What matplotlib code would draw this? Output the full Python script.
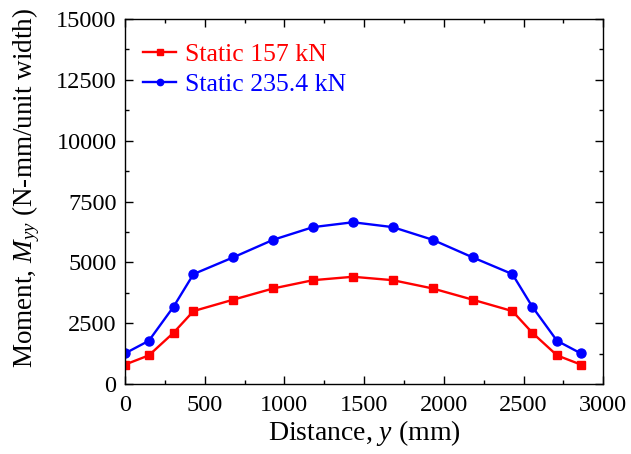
import matplotlib
matplotlib.use("Agg")
import matplotlib.pyplot as plt
from matplotlib.ticker import MultipleLocator

plt.rcParams["font.family"] = ["Liberation Serif", "DejaVu Serif"]
plt.rcParams["mathtext.fontset"] = "custom"
plt.rcParams["mathtext.rm"] = "Liberation Serif"
plt.rcParams["mathtext.it"] = "Liberation Serif:italic"

# Distance across the slab width (mm)
distance = [0, 150, 305, 430, 680, 930, 1180, 1430, 1680, 1930, 2180, 2430, 2555, 2710, 2860]
# Transverse moment M_yy (N-mm/unit width)
static_157 = [800, 1180, 2110, 3000, 3470, 3930, 4270, 4410, 4270, 3930, 3470, 3000, 2110, 1180, 800]
static_235 = [1260, 1780, 3180, 4520, 5210, 5930, 6450, 6650, 6450, 5930, 5210, 4520, 3180, 1780, 1260]

fig = plt.figure(figsize=(6.31, 4.54), dpi=100)
ax = fig.add_axes([0.198, 0.154, 0.758, 0.804])

ax.plot(distance, static_157, color="#ff0000", lw=1.7, marker="s", ms=6,
        label="Static 157 kN")
ax.plot(distance, static_235, color="#0000ff", lw=1.7, marker="o", ms=6.5,
        label="Static 235.4 kN")

ax.set_xlim(0, 3000)
ax.set_ylim(0, 15000)
ax.xaxis.set_major_locator(MultipleLocator(500))
ax.xaxis.set_minor_locator(MultipleLocator(250))
ax.yaxis.set_major_locator(MultipleLocator(2500))
ax.yaxis.set_minor_locator(MultipleLocator(1250))
ax.tick_params(which="both", direction="in", top=True, right=True, labelsize=17.5, width=1)
ax.tick_params(which="major", length=6)
ax.tick_params(which="minor", length=3)
ax.tick_params(axis="y", which="major", pad=6)
ax.tick_params(axis="x", which="major", pad=8)
for s in ax.spines.values():
    s.set_linewidth(1)

ax.set_xlabel("Distance, $\\mathit{y}$ (mm)", fontsize=20, labelpad=1)
ax.set_ylabel("Moment, $\\mathit{M}_{\\mathit{yy}}$ (N-mm/unit width)", fontsize=19.5, labelpad=10)
ax.yaxis.label.set_y(0.538)

leg = ax.legend(loc="upper left", frameon=False, fontsize=18.5, markerscale=0.7,
                handlelength=1.3, handletextpad=0.35, labelspacing=0.3,
                borderaxespad=0.3, bbox_to_anchor=(0.0, 0.985))
for txt, col in zip(leg.get_texts(), ["#ff0000", "#0000ff"]):
    txt.set_color(col)

fig.savefig("out.png", dpi=100)
